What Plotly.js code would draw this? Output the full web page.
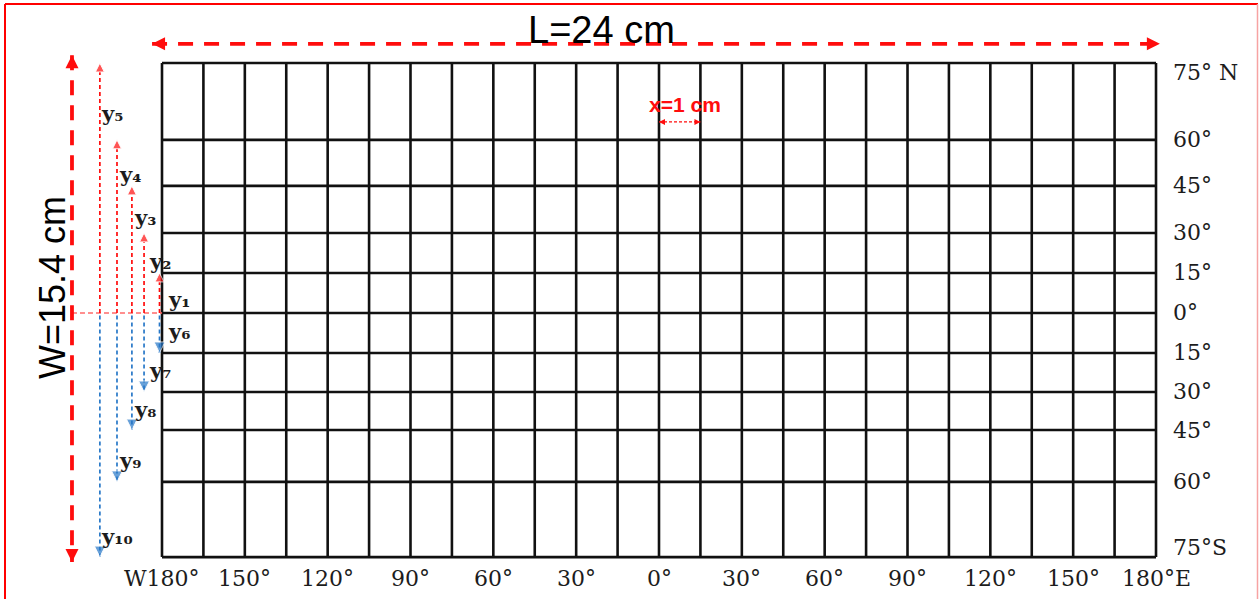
<!DOCTYPE html>
<html>
<head>
<meta charset="utf-8">
<script src="https://cdn.plot.ly/plotly-3.0.1.min.js"></script>
<style>
html,body{margin:0;padding:0;background:#ffffff;}
#chart{width:1259px;height:599px;}
</style>
</head>
<body>
<div id="chart"></div>
<script>
// ---------------- data ----------------
const longitudes = [-180,-165,-150,-135,-120,-105,-90,-75,-60,-45,-30,-15,0,15,30,45,60,75,90,105,120,135,150,165,180];
const latitudes = [75,60,45,30,15,0,-15,-30,-45,-60,-75];
// distance of each parallel from the equator on the map, in cm (north +, south -)
const latitudeCm = [7.81,5.41,3.97,2.50,1.25,0,-1.25,-2.47,-3.66,-5.28,-7.63];
const lonTickValues = [-180,-150,-120,-90,-60,-30,0,30,60,90,120,150,180];
const lonTickLabels = ['W180°','150°','120°','90°','60°','30°','0°','30°','60°','90°','120°','150°','180°E'];
const latTickLabels = ['75° N','60°','45°','30°','15°','0°','15°','30°','45°','60°','75°S'];
const northLabels = ['y₁','y₂','y₃','y₄','y₅'];
const northLatitudes = [15,30,45,60,75];
const southLabels = ['y₆','y₇','y₈','y₉','y₁₀'];
const southLatitudes = [-15,-30,-45,-60,-75];
const mapLengthText = 'L=24 cm';
const mapWidthText = 'W=15.4 cm';
const cellText = 'x=1 cm';
const cellLongitudes = [0,15];

// ---------------- styling / placement ----------------
const S = {
  xRange: [-238.67, 217.30],
  yRange: [-8.94, 9.78],
  arrowX: [-180.9, -186.5, -190.9, -196.3, -202.5],
  northLabelShift: [-27, -29, -32, -35, -50],
  labelXShift: [6, 3, 0, 0, -1],
  southLabelShift: 21,
  bigArrowX: -212.6,
  bigArrowYTop: 8.05, bigArrowYBottom: -7.78,
  topArrowY: 8.41, topArrowLeft: -183.6, topArrowRight: 181.4,
  cellArrowY: 5.97, cellTextY: 6.5,
  red: '#ff0d0d', blue: '#2878c8', grid: '#111111', text: '#1c1c1c',
  serif: 'DejaVu Serif, Liberation Serif, serif',
  sans: 'Liberation Sans, Arial, sans-serif'
};

const posOf = lat => latitudeCm[latitudes.indexOf(lat)];
const lonFirst = longitudes[0], lonLast = longitudes[longitudes.length - 1];
const cmTop = latitudeCm[0], cmBottom = latitudeCm[latitudeCm.length - 1];

const traces = [];

// graticule
const gx = [], gy = [];
longitudes.forEach(l => { gx.push(l, l, null); gy.push(cmTop, cmBottom, null); });
latitudeCm.forEach(c => { gx.push(lonFirst, lonLast, null); gy.push(c, c, null); });
traces.push({type: 'scatter', mode: 'lines', x: gx, y: gy,
  line: {color: S.grid, width: 2.6}, hoverinfo: 'skip'});

// equator lead line
traces.push({type: 'scatter', mode: 'lines', x: [S.bigArrowX, lonFirst], y: [0, 0],
  line: {color: '#ff6a6a', width: 1.4, dash: '5px,3px'}, hoverinfo: 'skip'});

// north (red) and south (blue) distance arrows
northLatitudes.forEach((lat, i) => {
  traces.push({type: 'scatter', mode: 'lines+markers', x: [S.arrowX[i], S.arrowX[i]], y: [0, posOf(lat)],
    line: {color: S.red, width: 1.7, dash: '4px,3px'},
    marker: {symbol: ['circle', 'arrow-up'], size: [0, 9], color: S.red}, hoverinfo: 'skip'});
});
southLatitudes.forEach((lat, i) => {
  traces.push({type: 'scatter', mode: 'lines+markers', x: [S.arrowX[i], S.arrowX[i]], y: [-0.08, posOf(lat)],
    line: {color: S.blue, width: 1.7, dash: '4px,3px'},
    marker: {symbol: ['circle', 'arrow-down'], size: [0, 11], color: S.blue}, hoverinfo: 'skip'});
});

// big dimension arrows
traces.push({type: 'scatter', mode: 'lines+markers', x: [S.bigArrowX, S.bigArrowX], y: [S.bigArrowYTop, S.bigArrowYBottom],
  line: {color: S.red, width: 3.8, dash: '15px,10px'},
  marker: {symbol: ['arrow-up', 'arrow-down'], size: 13, color: S.red}, hoverinfo: 'skip'});
traces.push({type: 'scatter', mode: 'lines+markers', x: [S.topArrowLeft, S.topArrowRight], y: [S.topArrowY, S.topArrowY],
  line: {color: S.red, width: 3.8, dash: '15px,11px'},
  marker: {symbol: ['arrow-left', 'arrow-right'], size: 13, color: S.red}, hoverinfo: 'skip'});

// one-cell arrow
traces.push({type: 'scatter', mode: 'lines+markers', x: cellLongitudes, y: [S.cellArrowY, S.cellArrowY],
  line: {color: S.red, width: 1.3, dash: '3px,2px'},
  marker: {symbol: ['arrow-left', 'arrow-right'], size: 6, color: S.red}, hoverinfo: 'skip'});

const annotations = [];
// longitude labels
lonTickValues.forEach((v, i) => annotations.push({x: v, y: cmBottom, xref: 'x', yref: 'y',
  text: lonTickLabels[i], showarrow: false, xanchor: 'center', yanchor: 'middle', yshift: -21,
  font: {family: S.serif, size: 22, color: S.text}}));
// latitude labels
latitudes.forEach((lat, i) => {
  let ys = 0;
  if (i === 0) ys = -9;
  if (i === latitudes.length - 1) ys = 10;
  annotations.push({x: lonLast, y: latitudeCm[i], xref: 'x', yref: 'y', text: latTickLabels[i],
    showarrow: false, xanchor: 'left', yanchor: 'middle', xshift: 15, yshift: ys,
    font: {family: S.serif, size: 22, color: S.text}});
});
// y labels
northLatitudes.forEach((lat, i) => annotations.push({x: S.arrowX[i], y: posOf(lat), xref: 'x', yref: 'y',
  text: northLabels[i], showarrow: false, xanchor: 'left', yanchor: 'middle',
  xshift: S.labelXShift[i], yshift: S.northLabelShift[i],
  font: {family: S.serif, size: 21, color: S.text, weight: 'bold'}}));
southLatitudes.forEach((lat, i) => annotations.push({x: S.arrowX[i], y: posOf(lat), xref: 'x', yref: 'y',
  text: southLabels[i], showarrow: false, xanchor: 'left', yanchor: 'middle',
  xshift: S.labelXShift[i], yshift: S.southLabelShift,
  font: {family: S.serif, size: 21, color: S.text, weight: 'bold'}}));
// dimension texts
annotations.push({x: 601 / 1259, y: 1 - 30 / 599, xref: 'paper', yref: 'paper', text: mapLengthText,
  showarrow: false, xanchor: 'center', yanchor: 'middle', font: {family: S.sans, size: 38, color: '#000'}});
annotations.push({x: 52 / 1259, y: 1 - 288 / 599, xref: 'paper', yref: 'paper', text: mapWidthText,
  showarrow: false, textangle: -90, xanchor: 'center', yanchor: 'middle', font: {family: S.sans, size: 36, color: '#000'}});
annotations.push({x: (cellLongitudes[0] + cellLongitudes[1]) / 2 + 2, y: S.cellTextY, xref: 'x', yref: 'y', text: cellText,
  showarrow: false, xanchor: 'center', yanchor: 'middle', font: {family: S.sans, size: 21, color: S.red, weight: 'bold'}});

const W = 1259, H = 599;
const shapes = [
  {type: 'line', xref: 'paper', yref: 'paper', x0: 5 / W, x1: 1258 / W, y0: 1 - 4 / H, y1: 1 - 4 / H, line: {color: '#ff0000', width: 2}},
  {type: 'line', xref: 'paper', yref: 'paper', x0: 5 / W, x1: 5 / W, y0: 1 - 4 / H, y1: -0.05, line: {color: '#ff0000', width: 2}},
  {type: 'line', xref: 'paper', yref: 'paper', x0: 1257.5 / W, x1: 1257.5 / W, y0: 1 - 4 / H, y1: -0.05, line: {color: '#f7a3a3', width: 1.5}}
];

const layout = {
  width: W, height: H, margin: {l: 0, r: 0, t: 0, b: 0},
  paper_bgcolor: '#ffffff', plot_bgcolor: '#ffffff',
  showlegend: false, hovermode: false,
  xaxis: {range: S.xRange, visible: false, fixedrange: true},
  yaxis: {range: S.yRange, visible: false, fixedrange: true},
  annotations: annotations, shapes: shapes
};

Plotly.newPlot('chart', traces, layout, {displayModeBar: false, staticPlot: true});
</script>
</body>
</html>
